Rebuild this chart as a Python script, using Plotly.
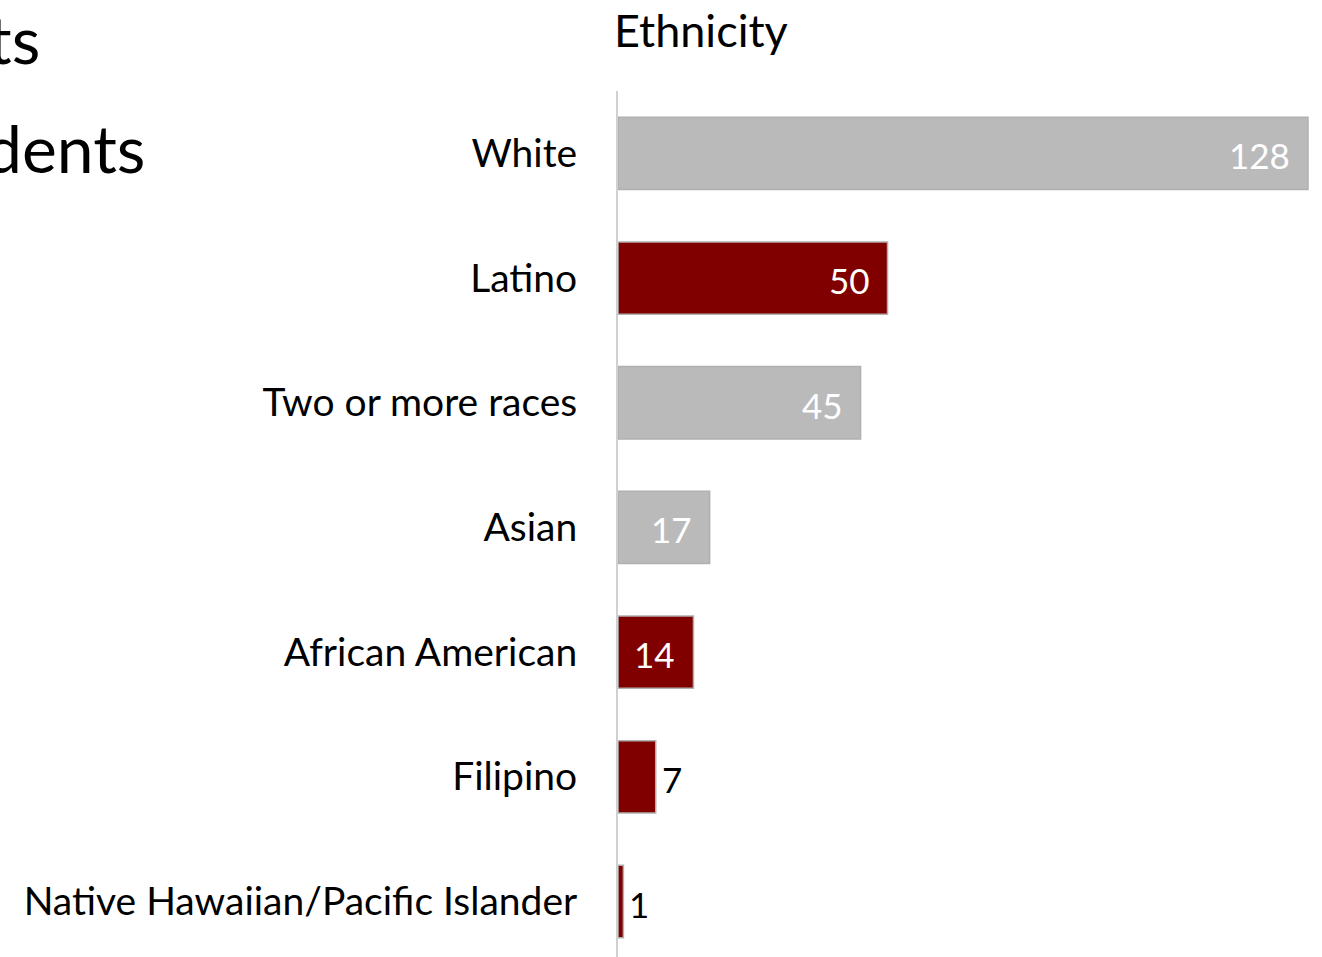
import plotly.graph_objects as go

# Student counts by ethnicity
categories = [
    "White",
    "Latino",
    "Two or more races",
    "Asian",
    "African American",
    "Filipino",
    "Native Hawaiian/Pacific Islander",
]
counts = [128, 50, 45, 17, 14, 7, 1]
highlight = [False, True, False, False, True, True, True]

GRAY = "#BABABA"
MAROON = "#800000"
FONT = "Lato"

bar_colors = [MAROON if h else GRAY for h in highlight]

fig = go.Figure()
fig.add_trace(
    go.Bar(
        x=counts,
        y=categories,
        orientation="h",
        marker=dict(color=bar_colors, line=dict(color="#B0B0B0", width=1.5)),
        hoverinfo="x+y",
    )
)

# value labels: inside the bar end for wide bars, just outside for narrow ones
for cat, val in zip(categories, counts):
    inside = val >= 10
    fig.add_annotation(
        x=val,
        y=cat,
        xref="x",
        yref="y",
        text=str(val),
        showarrow=False,
        xanchor="right" if inside else "left",
        yanchor="middle",
        xshift=-16 if inside else 4,
        yshift=-2,
        font=dict(family=FONT, size=35, color="white" if inside else "black"),
    )

PLOT_L, PLOT_T = 618, 91
PLOT_W, PLOT_H = 1322 - PLOT_L, 957 - PLOT_T


def px_x(x):
    return (x - PLOT_L) / PLOT_W


def px_y(y):
    return (957 - y) / PLOT_H


# chart title
fig.add_annotation(
    x=px_x(612), y=px_y(59), xref="paper", yref="paper", text="Ethnicity",
    showarrow=False, xanchor="left", yanchor="bottom",
    font=dict(family=FONT, size=45, color="black"),
)

# slide heading fragments running in from the left edge
fig.add_annotation(
    x=px_x(42), y=px_y(80), xref="paper", yref="paper",
    text="ts", showarrow=False, xanchor="right", yanchor="bottom",
    font=dict(family=FONT, size=66, color="black"),
)
fig.add_annotation(
    x=px_x(147), y=px_y(189), xref="paper", yref="paper",
    text="dents", showarrow=False, xanchor="right", yanchor="bottom",
    font=dict(family=FONT, size=66, color="black"),
)

fig.update_layout(
    width=1322,
    height=957,
    margin=dict(l=PLOT_L, r=0, t=PLOT_T, b=0),
    paper_bgcolor="white",
    plot_bgcolor="white",
    showlegend=False,
    bargap=0.42,
    font=dict(family=FONT, color="black"),
    xaxis=dict(range=[0, 130.6], visible=False, fixedrange=True),
    yaxis=dict(
        type="category",
        categoryorder="array",
        categoryarray=categories,
        range=[6.445, -0.5],
        showline=True,
        linecolor="#D0D0D0",
        linewidth=2,
        showgrid=False,
        ticks="",
        ticklabelstandoff=31,
        tickfont=dict(family=FONT, size=39, color="black"),
        fixedrange=True,
    ),
)

fig.write_html("out.html")
